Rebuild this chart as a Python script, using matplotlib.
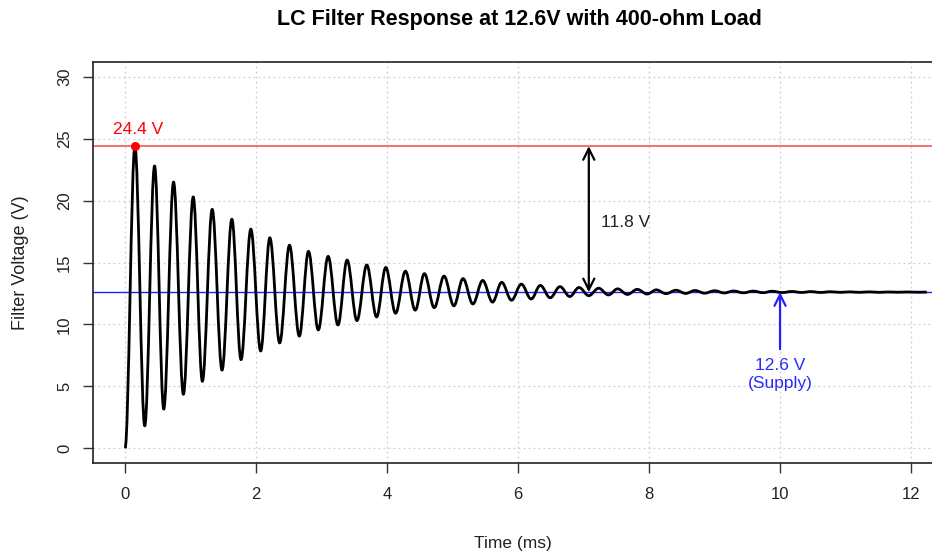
import numpy as np
import matplotlib.pyplot as plt
from matplotlib.path import Path
from matplotlib.patches import PathPatch

plt.rcParams['font.family'] = ['Liberation Sans', 'DejaVu Sans']

# values (time in ms, voltage in V)
start_t = [0.0]
start_v = [0.0]

peak_t = [0.15, 0.45, 0.74, 1.04, 1.33, 1.63, 1.92, 2.21, 2.51, 2.80,
          3.10, 3.39, 3.69, 3.98, 4.28, 4.57, 4.87, 5.16, 5.46, 5.75,
          6.05, 6.34, 6.64, 6.93, 7.23, 7.52, 7.82, 8.11, 8.41, 8.70,
          9.00, 9.29, 9.59, 9.88, 10.18, 10.47, 10.77, 11.06, 11.36, 11.65,
          11.95, 12.24]
peak_v = [24.4, 22.8, 21.5, 20.3, 19.3, 18.5, 17.7, 17.0, 16.4, 15.9,
          15.5, 15.2, 14.8, 14.6, 14.3, 14.1, 13.9, 13.7, 13.55, 13.4,
          13.25, 13.15, 13.05, 12.98, 12.92, 12.87, 12.83, 12.79, 12.76, 12.74,
          12.72, 12.70, 12.69, 12.68, 12.66, 12.65, 12.64, 12.63, 12.63, 12.62,
          12.62, 12.61]

trough_t = [0.30, 0.59, 0.89, 1.18, 1.48, 1.77, 2.07, 2.36, 2.66, 2.95,
            3.25, 3.54, 3.84, 4.13, 4.43, 4.72, 5.02, 5.31, 5.61, 5.90,
            6.20, 6.49, 6.79, 7.08, 7.38, 7.67, 7.97, 8.26, 8.56, 8.85,
            9.15, 9.44, 9.74, 10.03, 10.33, 10.62, 10.92, 11.21, 11.51, 11.80,
            12.10]
trough_v = [1.8, 3.15, 4.35, 5.4, 6.3, 7.15, 7.85, 8.5, 9.05, 9.55,
            9.95, 10.3, 10.6, 10.9, 11.15, 11.35, 11.5, 11.65, 11.8, 11.95,
            12.05, 12.15, 12.25, 12.32, 12.38, 12.42, 12.45, 12.48, 12.50, 12.52,
            12.54, 12.55, 12.56, 12.57, 12.58, 12.58, 12.59, 12.59, 12.59, 12.60,
            12.60]

supply_v = 12.6
max_v = 24.4
max_t = 0.15
overshoot_v = 11.8
overshoot_t = 7.08
supply_label_t = 10.0

# merge all read points in time order
t = np.array(start_t + peak_t + trough_t)
v = np.array(start_v + peak_v + trough_v)
order = np.argsort(t)
t, v = t[order], v[order]

fig = plt.figure(figsize=(9.32, 5.54), dpi=100)
ax = fig.add_axes([93 / 932, 1 - 463 / 554, 1 - 93 / 932, (463 - 62) / 554])

ax.grid(True, color='#cfcfcf', linestyle=(0, (1.5, 2.5)), linewidth=0.9)
ax.set_axisbelow(True)

ax.axhline(max_v, color='#f05a5a', linewidth=1.2)
ax.axhline(supply_v, color='#2020ff', linewidth=1.0)

# smooth curve through the read extrema (flat tangent at each turning point)
verts = [(t[0], v[0])]
codes = [Path.MOVETO]
for i in range(len(t) - 1):
    d = t[i + 1] - t[i]
    verts += [(t[i] + 0.36 * d, v[i]), (t[i + 1] - 0.36 * d, v[i + 1]), (t[i + 1], v[i + 1])]
    codes += [Path.CURVE4] * 3
ax.add_patch(PathPatch(Path(verts, codes), fill=False, edgecolor='black',
                       linewidth=2.0, joinstyle='round', zorder=3))

ax.plot([max_t], [max_v], 'o', color='red', markersize=5.5, zorder=4)
ax.text(max_t + 0.05, max_v + 0.75, f'{max_v} V', color='red', fontsize=12.5,
        ha='center', va='bottom')

# overshoot arrow
ax.annotate('', xy=(overshoot_t, max_v), xytext=(overshoot_t, supply_v),
            arrowprops=dict(arrowstyle='<->', color='black', lw=1.6,
                            mutation_scale=20, shrinkA=0, shrinkB=0))
ax.text(overshoot_t + 0.18, 18.2, f'{overshoot_v} V', color='#222222',
        fontsize=12.5, ha='left', va='center')

# supply arrow
ax.annotate('', xy=(supply_label_t, supply_v), xytext=(supply_label_t, 8.0),
            arrowprops=dict(arrowstyle='->', color='#2020ff', lw=1.6,
                            mutation_scale=20, shrinkA=0, shrinkB=0))
ax.text(supply_label_t, 5.95, f'{supply_v} V\n(Supply)', color='#2a2aff',
        fontsize=12.5, ha='center', va='center', linespacing=1.3)

ax.set_xlim(-0.49, 12.32)
ax.set_ylim(-1.2, 31.2)
ax.set_xticks(np.arange(0, 13, 2))
ax.set_yticks(np.arange(0, 31, 5))
ax.tick_params(axis='both', direction='out', length=7, width=1.0,
               colors='#333333', labelsize=12, labelcolor='#222222')
ax.tick_params(axis='x', pad=10)
ax.tick_params(axis='y', pad=8)
for lab in ax.get_yticklabels():
    lab.set_rotation(90)
    lab.set_va('center')

for side in ['left', 'bottom', 'top']:
    ax.spines[side].set_linewidth(1.2)
    ax.spines[side].set_color('#222222')
ax.spines['right'].set_visible(False)

ax.set_xlabel('Time (ms)', fontsize=12.5, color='#222222', labelpad=25)
ax.set_ylabel('Filter Voltage (V)', fontsize=13, color='#222222', labelpad=20)

fig.text(519 / 932, 1 - 19 / 554, 'LC Filter Response at 12.6V with 400-ohm Load',
         fontsize=15.5, fontweight='bold', ha='center', va='center')

fig.savefig('out.png', dpi=100)
